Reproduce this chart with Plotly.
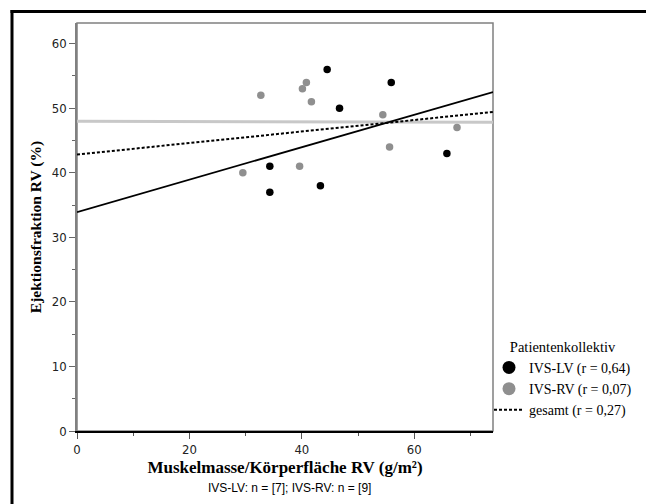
import numpy as np
import plotly.graph_objects as go

# ---- data ----
lv_x = [44.5, 55.9, 46.7, 34.3, 34.3, 43.3, 65.8]
lv_y = [56, 54, 50, 41, 37, 38, 43]
rv_x = [32.7, 40.8, 40.1, 41.7, 54.4, 67.6, 55.6, 39.6, 29.5]
rv_y = [52, 54, 53, 51, 49, 47, 44, 41, 40]

group_names = ["IVS-LV (r = 0,64)", "IVS-RV (r = 0,07)", "gesamt (r = 0,27)"]
x_title = "Muskelmasse/Körperfläche RV (g/m²)"
y_title = "Ejektionsfraktion RV (%)"
subtitle = "IVS-LV: n = [7]; IVS-RV: n = [9]"
legend_title = "Patientenkollektiv"
x_range = [0, 74]
y_range = [0, 63.2]
x_tickvals = [0, 20, 40, 60]
y_tickvals = [0, 10, 20, 30, 40, 50, 60]

# regression lines computed from the data
all_x = lv_x + rv_x
all_y = lv_y + rv_y
def fit(xs, ys):
    m, b = np.polyfit(xs, ys, 1)
    xx = np.array(x_range, dtype=float)
    return xx, m * xx + b

SERIF = "Liberation Serif, Times New Roman, serif"
NARROW = "Liberation Sans Narrow, DejaVu Sans Condensed, Liberation Sans, sans-serif"
SANS = "Liberation Sans, Arial, sans-serif"

BLACK = "#000000"
GREY_M = "#8f8f8f"
GREY_L = "#c8c8c8"

fig = go.Figure()

fx, fy = fit(rv_x, rv_y)
fig.add_trace(go.Scatter(x=fx, y=fy, mode="lines", line=dict(color=GREY_L, width=3),
                         showlegend=False, hoverinfo="skip"))
fx, fy = fit(all_x, all_y)
fig.add_trace(go.Scatter(x=fx, y=fy, mode="lines", line=dict(color=BLACK, width=2, dash="3px,2px"),
                         showlegend=False, hoverinfo="skip"))
fx, fy = fit(lv_x, lv_y)
fig.add_trace(go.Scatter(x=fx, y=fy, mode="lines", line=dict(color=BLACK, width=1.7),
                         showlegend=False, hoverinfo="skip"))

fig.add_trace(go.Scatter(x=lv_x, y=lv_y, mode="markers",
                         marker=dict(color=BLACK, size=7.5), showlegend=False))
fig.add_trace(go.Scatter(x=rv_x, y=rv_y, mode="markers",
                         marker=dict(color=GREY_M, size=7.5), showlegend=False))

# legend entries
fig.add_trace(go.Scatter(x=[None], y=[None], mode="markers", name=group_names[0],
                         marker=dict(color=BLACK, size=13)))
fig.add_trace(go.Scatter(x=[None], y=[None], mode="markers", name=group_names[1],
                         marker=dict(color=GREY_M, size=13)))
fig.add_trace(go.Scatter(x=[None], y=[None], mode="lines", name=group_names[2],
                         line=dict(color=BLACK, width=2, dash="3px,2px")))

W, H = 646, 504
L, T = 77, 23
R = W - 493
B = H - 431
pw, ph = W - L - R, H - T - B

def px_x(p):
    return (p - L) / pw

def px_y(p):
    return (H - B - p) / ph

fig.update_layout(
    width=W, height=H,
    margin=dict(l=L, r=R, t=T, b=B, autoexpand=False),
    paper_bgcolor="white", plot_bgcolor="white",
    font=dict(family=SERIF, size=13, color=BLACK),
    xaxis=dict(range=x_range, tickvals=x_tickvals, showgrid=False, zeroline=False,
               showline=True, linecolor=BLACK, linewidth=1.5,
               ticks="outside", ticklen=6, tickcolor="#555555", tickwidth=1,
               minor=dict(tickvals=[10, 30, 50, 70], ticks="outside", ticklen=3, tickcolor="#555555"),
               tickfont=dict(family=NARROW, size=13, color="#222222"),
               title=dict(text="<b>" + x_title + "</b>", font=dict(family=SERIF, size=17), standoff=5)),
    yaxis=dict(range=y_range, tickvals=y_tickvals, showgrid=False, zeroline=False,
               showline=True, linecolor="#808080", linewidth=1.5,
               ticks="outside", ticklen=6, tickcolor="#666666", tickwidth=1,
               minor=dict(tickvals=[5, 15, 25, 35, 45, 55], ticks="outside", ticklen=3, tickcolor="#666666"),
               tickfont=dict(family=NARROW, size=13, color="#222222"),
               title=dict(text="<b>" + y_title + "</b>", font=dict(family=SERIF, size=15.5), standoff=6)),
    legend=dict(x=px_x(489), y=px_y(333), xanchor="left", yanchor="top",
                font=dict(family=SERIF, size=14), bgcolor="rgba(0,0,0,0)",
                title=dict(text=legend_title, font=dict(family=SERIF, size=14.5), side="top center"),
                itemwidth=30, tracegroupgap=0),
    shapes=[
        dict(type="rect", xref="paper", yref="paper", x0=0, x1=1, y0=0, y1=1,
             line=dict(color="#808080", width=1.5), layer="below"),
        dict(type="line", xref="paper", yref="paper",
             x0=px_x(10.5), x1=px_x(660), y0=px_y(11.5), y1=px_y(11.5),
             line=dict(color=BLACK, width=3), layer="above"),
        dict(type="line", xref="paper", yref="paper",
             x0=px_x(12), x1=px_x(12), y0=px_y(10), y1=px_y(520),
             line=dict(color=BLACK, width=3), layer="above"),
    ],
    annotations=[
        dict(text=subtitle, xref="paper", yref="paper", x=px_x(289), y=px_y(488),
             xanchor="center", yanchor="middle", showarrow=False,
             font=dict(family=SANS, size=12, color=BLACK)),
    ],
)

fig.write_html(
    "out.html",
    config={"displayModeBar": False},
    post_script="document.body.style.margin='0';document.body.style.overflow='hidden';"
                "document.documentElement.style.overflow='hidden';",
)
